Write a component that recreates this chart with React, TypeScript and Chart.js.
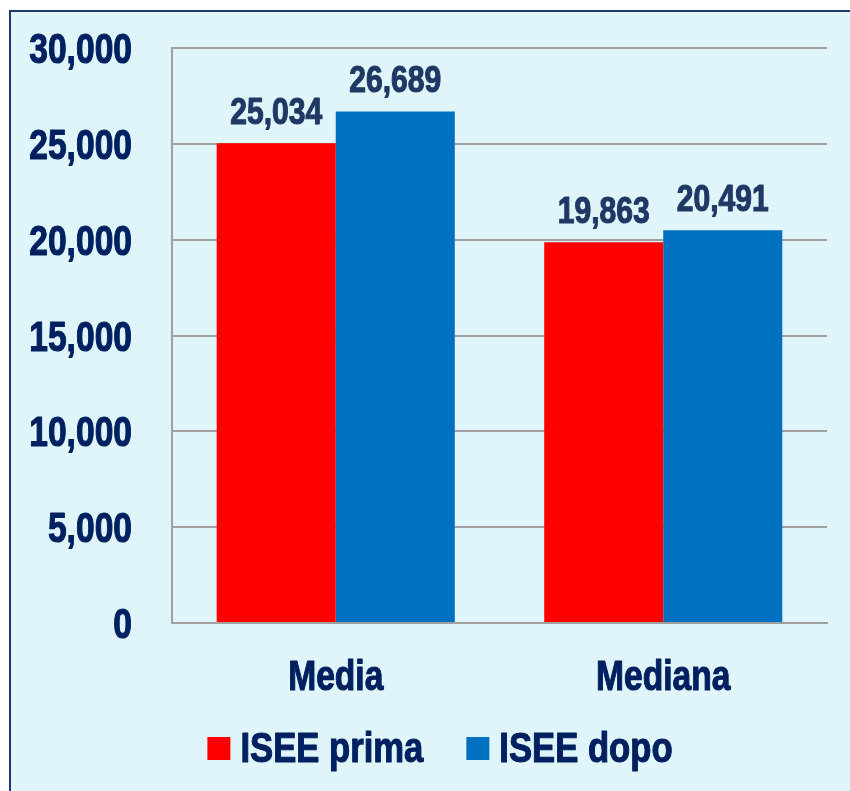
import React, { useEffect, useRef } from "react";
import { Chart, registerables } from "chart.js";

Chart.register(...registerables);

const categories = ["Media", "Mediana"];
const seriesNames = ["ISEE prima", "ISEE dopo"];
const iseePrima = [25034, 19863];
const iseeDopo = [26689, 20491];
const seriesColors = ["#ff0000", "#0070c0"];
const yTicks = [0, 5000, 10000, 15000, 20000, 25000, 30000];

const FONT = "'Liberation Sans', Arial, sans-serif";
const NAVY = "#002060";
const LABEL_NAVY = "#1f3864";
const SX = 0.81;

const fmt = (v: number) => v.toLocaleString("en-US");

function narrowText(
  ctx: CanvasRenderingContext2D,
  text: string,
  x: number,
  y: number,
  size: number,
  align: CanvasTextAlign,
  color: string,
  sx = SX
) {
  ctx.save();
  ctx.font = `bold ${size}px ${FONT}`;
  ctx.fillStyle = color;
  ctx.strokeStyle = color;
  ctx.lineWidth = 1.1;
  ctx.lineJoin = "round";
  ctx.textAlign = align;
  ctx.textBaseline = "alphabetic";
  ctx.translate(x, y);
  ctx.scale(sx, 1);
  ctx.fillText(text, 0, 0);
  ctx.strokeText(text, 0, 0);
  ctx.restore();
}

function narrowWidth(ctx: CanvasRenderingContext2D, text: string, size: number, sx = SX) {
  ctx.save();
  ctx.font = `bold ${size}px ${FONT}`;
  const w = ctx.measureText(text).width * sx;
  ctx.restore();
  return w;
}

const bgPlugin = {
  id: "bgBox",
  beforeDraw(chart: any) {
    const ctx = chart.ctx;
    ctx.save();
    ctx.fillStyle = "#ffffff";
    ctx.fillRect(0, 0, chart.width, chart.height);
    ctx.fillStyle = "#e0f5f9";
    ctx.fillRect(10, 11, chart.width, chart.height);
    ctx.strokeStyle = "#1f3a6e";
    ctx.lineWidth = 2;
    ctx.strokeRect(10, 11, chart.width + 10, chart.height + 10);
    ctx.restore();
  },
};

const axisLabelPlugin = {
  id: "axisLabels",
  afterDraw(chart: any) {
    const ctx = chart.ctx;
    const y = chart.scales.y;
    const x = chart.scales.x;
    y.ticks.forEach((t: any, i: number) => {
      const py = y.getPixelForTick(i);
      narrowText(ctx, fmt(t.value), y.right - 40, py + 15, 42, "right", NAVY, 0.8);
    });
    categories.forEach((c, i) => {
      const px = x.getPixelForValue(i);
      narrowText(ctx, c, px, x.top + 67, 42, "center", NAVY, 0.8);
    });
  },
};

const labelPlugin = {
  id: "valueLabels",
  afterDatasetsDraw(chart: any) {
    const ctx = chart.ctx;
    chart.data.datasets.forEach((ds: any, i: number) => {
      const meta = chart.getDatasetMeta(i);
      meta.data.forEach((bar: any, j: number) => {
        narrowText(ctx, fmt(ds.data[j]), bar.x, bar.y - 19, 36, "center", LABEL_NAVY, 0.835);
      });
    });
  },
};

const legendPlugin = {
  id: "customLegend",
  afterDraw(chart: any) {
    const ctx = chart.ctx;
    const box = 23;
    const gapText = 10;
    const gapItem = 43;
    const size = 42;
    const sx = 0.825;
    const items = chart.data.datasets.map((ds: any) => ({
      label: ds.label as string,
      color: ds.backgroundColor as string,
      w: narrowWidth(ctx, ds.label, size, sx),
    }));
    const total =
      items.reduce((s: number, it: any) => s + box + gapText + it.w, 0) +
      gapItem * (items.length - 1);
    let x = 440 - total / 2;
    const boxTop = 737;
    const baseline = 762;
    items.forEach((it: any) => {
      ctx.save();
      ctx.fillStyle = it.color;
      ctx.fillRect(x, boxTop, box, box);
      ctx.restore();
      narrowText(ctx, it.label, x + box + gapText, baseline, size, "left", NAVY, sx);
      x += box + gapText + it.w + gapItem;
    });
  },
};

export default function App() {
  const ref = useRef<HTMLCanvasElement>(null);
  useEffect(() => {
    document.body.style.margin = "0";
    const chart = new Chart(ref.current!, {
      type: "bar",
      data: {
        labels: categories,
        datasets: [
          { label: seriesNames[0], data: iseePrima, backgroundColor: seriesColors[0] },
          { label: seriesNames[1], data: iseeDopo, backgroundColor: seriesColors[1] },
        ],
      },
      options: {
        animation: false,
        responsive: true,
        maintainAspectRatio: false,
        layout: { padding: { top: 48, right: 23, bottom: 0, left: 0 } },
        datasets: { bar: { barPercentage: 1, categoryPercentage: 0.727 } },
        plugins: { legend: { display: false }, tooltip: { enabled: false } },
        scales: {
          x: {
            afterFit: (s: any) => {
              s.height = 168;
            },
            grid: { display: false, drawTicks: false },
            border: { display: true, color: "#a0a0a0", width: 2 },
            ticks: { display: false },
          },
          y: {
            min: 0,
            max: 30000,
            afterFit: (s: any) => {
              s.width = 172;
            },
            afterBuildTicks: (s: any) => {
              s.ticks = yTicks.map((v) => ({ value: v }));
            },
            grid: { color: "#a0a0a0", lineWidth: 2, drawTicks: false },
            border: { display: true, color: "#a0a0a0", width: 2 },
            ticks: { display: false },
          },
        },
      },
      plugins: [bgPlugin, labelPlugin, axisLabelPlugin, legendPlugin],
    });
    return () => chart.destroy();
  }, []);
  return (
    <div style={{ width: 850, height: 791, position: "relative" }}>
      <canvas ref={ref} />
    </div>
  );
}
